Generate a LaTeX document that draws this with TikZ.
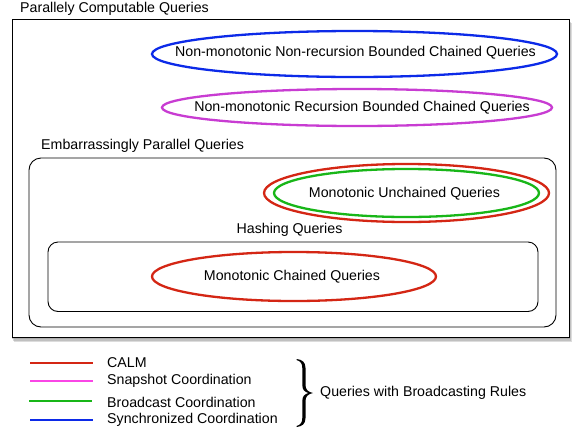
\documentclass[tikz,border=0pt]{standalone}
\usepackage{fontspec}
\setmainfont{Liberation Sans}
\definecolor{cred}{RGB}{212,38,20}
\definecolor{cgreen}{RGB}{24,182,24}
\definecolor{cblue}{RGB}{12,42,232}
\definecolor{cmag}{RGB}{200,60,210}
\definecolor{cpink}{RGB}{250,70,230}
\begin{document}
\begin{tikzpicture}[x=1pt,y=-1pt,
  lbl/.style={inner sep=0pt,font=\fontsize{14.2}{16}\selectfont},
  ell/.style={line width=2.3pt},
  grp/.style={draw=black,line width=0.9pt},
  legline/.style={line width=2.4pt}]
\useasboundingbox (0,0) rectangle (572,434);
% outer box with shadow
\fill[black!45,opacity=0.3] (14,23) rectangle (572,342);
\fill[black!45,opacity=0.35] (13,22) rectangle (571,341);
\fill[black!45,opacity=0.4] (12,20) rectangle (570,339);
\draw[grp,fill=white] (12,19) rectangle (569,337);
\node[lbl,anchor=west] (tPC) at (20,9) {Parallely Computable Queries};
% top ellipses
\draw[ell,cblue] (354.5,54) ellipse (202.5 and 23);
\node[lbl] (tNN) at (355.5,52.5) {Non-monotonic Non-recursion Bounded Chained Queries};
\draw[ell,cmag] (357,107.5) ellipse (195 and 18.5);
\node[lbl] (tNR) at (362,108) {Non-monotonic Recursion Bounded Chained Queries};
% embarrassingly parallel box
\node[lbl,anchor=west] (tEP) at (41,146) {Embarrassingly Parallel Queries};
\draw[grp,rounded corners=12] (29,158) rectangle (556,327);
\draw[ell,cred] (406.5,193) ellipse (142.5 and 29);
\draw[ell,cgreen] (406.5,193) ellipse (132.5 and 24);
\node[lbl] (tMU) at (404.5,193.5) {Monotonic Unchained Queries};
% hashing box
\node[lbl] (tHQ) at (289.5,230) {Hashing Queries};
\draw[grp,rounded corners=10] (48,242) rectangle (538,311.5);
\draw[ell,cred] (294,276.5) ellipse (142 and 24.5);
\node[lbl] (tMC) at (292,276.5) {Monotonic Chained Queries};
% legend
\coordinate (l1a) at (30,363); \coordinate (l1b) at (93,363);
\coordinate (l2a) at (30,381); \coordinate (l2b) at (93,381);
\coordinate (l3a) at (29,401); \coordinate (l3b) at (92,401);
\coordinate (l4a) at (30,420); \coordinate (l4b) at (93,420);
\draw[legline,cred] (l1a) -- (l1b);
\draw[legline,cpink] (l2a) -- (l2b);
\draw[legline,cgreen] (l3a) -- (l3b);
\draw[legline,cblue] (l4a) -- (l4b);
\node[lbl,anchor=west] (g1) at (107,363) {CALM};
\node[lbl,anchor=west] (g2) at (107,381) {Snapshot Coordination};
\node[lbl,anchor=west] (g3) at (107,402) {Broadcast Coordination};
\node[lbl,anchor=west] (g4) at (107,420) {Synchronized Coordination};
% brace
\fill[black] (296.5,359)
  .. controls (302,359.5) and (305.5,362) .. (305.5,368) -- (305.5,385)
  .. controls (305.5,389.5) and (308,392) .. (313,393)
  .. controls (308,394) and (305.5,396.5) .. (305.5,401) -- (305.5,418)
  .. controls (305.5,424) and (302,426.5) .. (296.5,427)
  -- (296.5,426)
  .. controls (300.5,425) and (302.3,422.5) .. (302.3,418) -- (302.3,401)
  .. controls (302.3,396.5) and (304.5,394) .. (308.5,393)
  .. controls (304.5,392) and (302.3,389.5) .. (302.3,385) -- (302.3,368)
  .. controls (302.3,363.5) and (300.5,361) .. (296.5,360) -- cycle;
\node[lbl,anchor=west] (gq) at (320,393) {Queries with Broadcasting Rules};
\end{tikzpicture}
\end{document}
